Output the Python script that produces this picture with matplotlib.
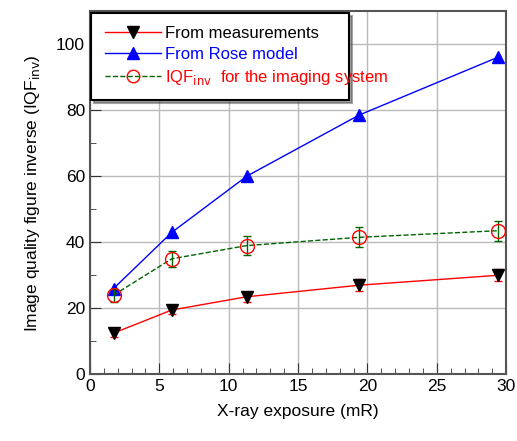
# plot.py
# image quality figure inverse vs x-ray exposure

import matplotlib.pyplot as plt
from matplotlib.lines import Line2D
from matplotlib.ticker import MultipleLocator

exposure = [1.7, 5.9, 11.3, 19.4, 29.4]
meas = [12.5, 19.5, 23.5, 27.0, 30.0]
meas_err = [1.2, 1.2, 1.5, 1.8, 1.8]
rose = [26.0, 43.0, 60.0, 78.5, 96.0]
iqf = [24.0, 35.0, 39.0, 41.5, 43.5]
iqf_err = [2.0, 2.5, 2.8, 3.0, 3.0]

plt.rcParams['font.family'] = ['Liberation Sans', 'DejaVu Sans']

fig = plt.figure(figsize=(5.17, 4.41), dpi=100)
ax = fig.add_axes([0.174, 0.151, 0.805, 0.824])

ax.errorbar(exposure, meas, yerr=meas_err, color='red', lw=1, capsize=3,
            marker='v', ms=8, mfc='black', mec='black', ecolor='red', zorder=3)
ax.plot(exposure, rose, color='blue', lw=1, marker='^', ms=8,
        mfc='blue', mec='blue', zorder=3)
ax.errorbar(exposure, iqf, yerr=iqf_err, color='darkgreen', lw=1, ls='--',
            capsize=3, marker='o', ms=10, mfc='none', mec='red', ecolor='darkgreen',
            zorder=3)

ax.set_xlim(0, 30)
ax.set_ylim(0, 110)
ax.xaxis.set_major_locator(MultipleLocator(5))
ax.xaxis.set_minor_locator(MultipleLocator(1))
ax.yaxis.set_major_locator(MultipleLocator(20))
ax.yaxis.set_minor_locator(MultipleLocator(10))
ax.tick_params(which='both', direction='in', labelsize=12.5, colors='#333333')
ax.tick_params(which='major', length=8)
ax.tick_params(which='minor', length=4)
for lab in ax.get_xticklabels() + ax.get_yticklabels():
    lab.set_color('black')
ax.grid(True, which='major', color='#bbbbbb', lw=1)
for s in ax.spines.values():
    s.set_color('#555555')
    s.set_linewidth(1.5)

ax.set_xlabel('X-ray exposure (mR)', fontsize=12.5, labelpad=7)
ax.set_ylabel('Image quality figure inverse (IQF$_{\\rm inv}$)', fontsize=12.5, labelpad=10)

handles = [
    Line2D([], [], color='red', lw=1, marker='v', ms=8, mfc='black', mec='black'),
    Line2D([], [], color='blue', lw=1, marker='^', ms=8, mfc='blue', mec='blue'),
    Line2D([], [], color='darkgreen', lw=1, ls='--', marker='o', ms=9, mfc='none', mec='red'),
]
labels = ['From measurements', 'From Rose model', 'IQF$_{\\rm inv}$  for the imaging system']
leg = ax.legend(handles, labels, loc='upper left', bbox_to_anchor=(0.003, 0.0, 0.62, 0.995),
                mode='expand', fontsize=12, fancybox=False, shadow=True, framealpha=1,
                edgecolor='black', handlelength=3.4, handletextpad=0.2,
                borderpad=0.8, labelspacing=0.35, borderaxespad=0)
leg.get_frame().set_linewidth(1.5)
cols = ['black', 'blue', 'red']
for t, c in zip(leg.get_texts(), cols):
    t.set_color(c)

fig.savefig('out.png', dpi=100)
